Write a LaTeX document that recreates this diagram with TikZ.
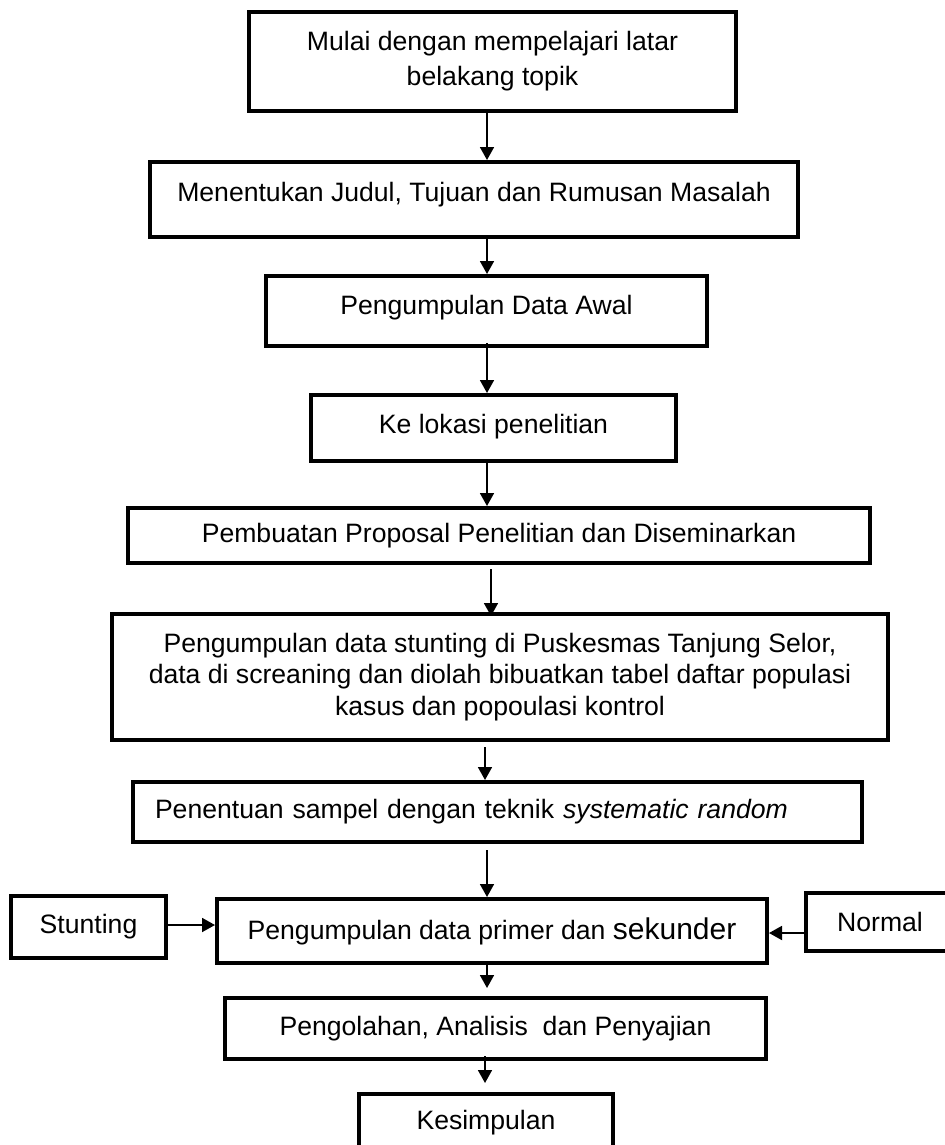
\documentclass[tikz,border=0pt]{standalone}
\usepackage{fontspec}
\setmainfont{Liberation Sans}
\usetikzlibrary{arrows.meta}
\begin{document}
\begin{tikzpicture}[x=0.5pt,y=-0.5pt,
	kotak/.style={draw,line width=2pt,align=center,inner sep=0pt,font=\fontsize{13.3}{15.8}\selectfont},
	panah/.style={-{Triangle[length=6.5pt,width=7pt]},line width=0.9pt}]
	\useasboundingbox (0,0) rectangle (944,1145);
	\coordinate (tengah) at (487,0);
	\node[kotak,minimum width=243.5pt,minimum height=49.5pt] (mulai) at (492.5,61.5) {Mulai dengan mempelajari latar\\[1.7pt]belakang topik};
	\node[kotak,minimum width=324pt,minimum height=37.5pt,text depth=7.5pt] (judul) at (474,199.5) {Menentukan Judul, Tujuan dan Rumusan Masalah};
	\node[kotak,minimum width=220.5pt,minimum height=35pt,text depth=6.5pt] (awal) at (486.5,311) {Pengumpulan Data Awal};
	\node[kotak,minimum width=182.5pt,minimum height=33pt,text depth=4pt] (lokasi) at (493.5,428) {Ke lokasi penelitian};
	\node[kotak,minimum width=371pt,minimum height=27.5pt] (proposal) at (499,535.5) {Pembuatan Proposal Penelitian dan Diseminarkan};
	\node[kotak,minimum width=388pt,minimum height=63pt] (stunting) at (500,677) {Pengumpulan data stunting di Puskesmas Tanjung Selor,\\data di screaning dan diolah bibuatkan tabel daftar populasi\\kasus dan popoulasi kontrol};
	\node[kotak,minimum width=364.5pt,minimum height=30pt,align=left,inner xsep=11pt,text width=342.5pt] (sampel) at (497.5,812) {Penentuan sampel dengan teknik \textit{systematic random}};
	\node[kotak,minimum width=275pt,minimum height=32pt] (primer) at (492,931) {Pengumpulan data primer dan {\fontsize{15}{18}\selectfont sekunder}};
	\node[kotak,minimum width=77.5pt,minimum height=31pt] (kasus) at (88.5,927) {Stunting};
	\node[kotak,minimum width=74pt,minimum height=29pt] (normal) at (880,922) {Normal};
	\node[kotak,minimum width=270.5pt,minimum height=30.5pt] (olah) at (495.5,1028.5) {Pengolahan, Analisis\ \ dan Penyajian};
	\node[kotak,minimum width=127pt,minimum height=29pt] (simpul) at (486,1123) {Kesimpulan};
	\draw[panah] (mulai.south -| tengah) -- (judul.north -| tengah);
	\draw[panah] (judul.south -| tengah) -- (awal.north -| tengah);
	\draw[panah,shorten <=-2.5pt] (awal.south -| tengah) -- (lokasi.north -| tengah);
	\draw[panah] (lokasi.south -| tengah) -- (proposal.north -| tengah);
	\draw[panah,shorten <=2pt,shorten >=-2pt] ([xshift=2pt]proposal.south -| tengah) -- ([xshift=2pt]stunting.north -| tengah);
	\draw[panah,shorten <=2.5pt] ([xshift=-1pt]stunting.south -| tengah) -- ([xshift=-1pt]sampel.north -| tengah);
	\draw[panah,shorten <=3pt] (sampel.south -| tengah) -- (primer.north -| tengah);
	\draw[panah,shorten >=4pt] (primer.south -| tengah) -- (olah.north -| tengah);
	\draw[panah,shorten <=-2.5pt,shorten >=4.5pt] ([xshift=-1pt]olah.south -| tengah) -- ([xshift=-1pt]simpul.north -| tengah);
	\draw[panah] ([yshift=1pt]kasus.east) -- ([yshift=1pt]kasus.east -| primer.west);
	\draw[panah] ([yshift=-5.5pt]normal.west) -- ([yshift=-5.5pt]normal.west -| primer.east);
\end{tikzpicture}
\end{document}
